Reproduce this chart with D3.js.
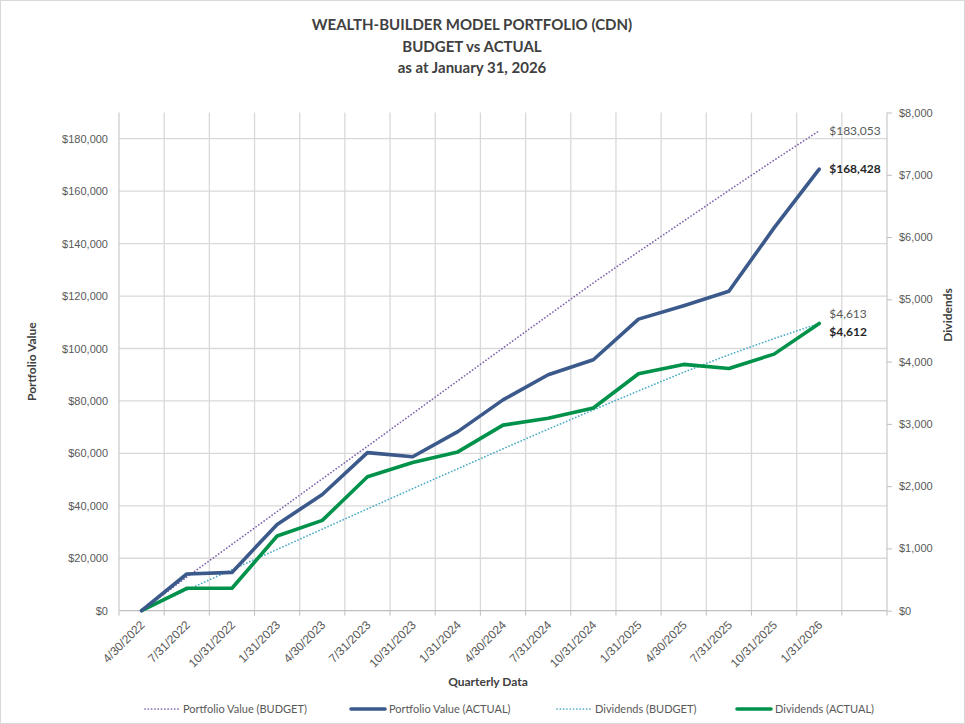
<!DOCTYPE html>
<html>
<head>
<meta charset="utf-8">
<script src="https://cdn.jsdelivr.net/npm/d3@7"></script>
<style>
  body { margin: 0; background: #fff; }
  svg { font-family: Lato, "Liberation Sans", sans-serif; }
</style>
</head>
<body>
<div id="chart"></div>
<script>
const quarters = ["4/30/2022", "7/31/2022", "10/31/2022", "1/31/2023", "4/30/2023", "7/31/2023",
  "10/31/2023", "1/31/2024", "4/30/2024", "7/31/2024", "10/31/2024", "1/31/2025",
  "4/30/2025", "7/31/2025", "10/31/2025", "1/31/2026", " "];

const portfolioBudget = [0, 12800, 25300, 37800, 50300, 62700, 75200, 87700, 100200, 112600,
  125000, 136900, 148600, 160300, 171800, 183053];
const portfolioActual = [0, 14000, 14600, 32900, 44300, 60300, 58700, 68300, 80400, 90000,
  95700, 111200, 116300, 121800, 146000, 168428];
const dividendsBudget = [0, 330, 660, 985, 1310, 1635, 1960, 2280, 2600, 2915,
  3225, 3530, 3830, 4110, 4370, 4613];
const dividendsActual = [0, 360, 360, 1200, 1450, 2150, 2380, 2550, 2980, 3090,
  3255, 3805, 3955, 3890, 4120, 4612];

const leftTicks = [0, 20000, 40000, 60000, 80000, 100000, 120000, 140000, 160000, 180000];
const rightTicks = [0, 1000, 2000, 3000, 4000, 5000, 6000, 7000, 8000];
const titleLines = ["WEALTH-BUILDER MODEL PORTFOLIO (CDN)", "BUDGET vs ACTUAL", "as at January 31, 2026"];

const W = 965, H = 724;
const plot = { left: 119, right: 887, top: 112.5, bottom: 610.7 };
const textGray = "#595959";
const gridGray = "#d9d9d9";

const svg = d3.select("#chart").append("svg")
  .attr("width", W)
  .attr("height", H);

svg.append("rect")
  .attr("x", 0.5).attr("y", 0.5)
  .attr("width", W - 1).attr("height", H - 1)
  .attr("fill", "#fff")
  .attr("stroke", gridGray);

const x = d3.scaleBand()
  .domain(quarters)
  .range([plot.left, plot.right]);
const cx = i => x(quarters[i]) + x.bandwidth() / 2;

const yLeft = d3.scaleLinear().domain([0, 190000]).range([plot.bottom, plot.top]);
const yRight = d3.scaleLinear().domain([0, 8000]).range([plot.bottom, plot.top]);
const money = v => "$" + d3.format(",")(v);

// horizontal gridlines (left axis)
svg.append("g")
  .selectAll("line")
  .data(leftTicks.slice(1))
  .enter().append("line")
  .attr("x1", plot.left).attr("x2", plot.right)
  .attr("y1", d => yLeft(d)).attr("y2", d => yLeft(d))
  .attr("stroke", gridGray).attr("stroke-width", 1.3);

// vertical gridlines on category boundaries
const bounds = quarters.map(q => x(q)).concat([plot.right]);
svg.append("g")
  .selectAll("line")
  .data(bounds.slice(1, -1))
  .enter().append("line")
  .attr("x1", d => d).attr("x2", d => d)
  .attr("y1", plot.top).attr("y2", plot.bottom)
  .attr("stroke", gridGray).attr("stroke-width", 1.3);

// left axis
const gLeft = svg.append("g")
  .attr("transform", "translate(" + plot.left + ",0)")
  .call(d3.axisLeft(yLeft).tickValues(leftTicks).tickFormat(money).tickSize(0).tickPadding(11));
gLeft.select(".domain").attr("stroke", "#bfbfbf").attr("d", "M0," + plot.top + "V" + plot.bottom);
gLeft.selectAll("text").attr("fill", textGray).style("font-size", "11px");

// right axis
const gRight = svg.append("g")
  .attr("transform", "translate(" + plot.right + ",0)")
  .call(d3.axisRight(yRight).tickValues(rightTicks).tickFormat(money).tickSize(5).tickPadding(7));
gRight.select(".domain").attr("stroke", "#bfbfbf").attr("d", "M0," + plot.top + "V" + plot.bottom);
gRight.selectAll("line").attr("stroke", "#bfbfbf");
gRight.selectAll("text").attr("fill", textGray).style("font-size", "11px");

// bottom axis (labels at category centres, ticks on boundaries)
const gBottom = svg.append("g")
  .attr("transform", "translate(0," + plot.bottom + ")")
  .call(d3.axisBottom(x).tickSize(0).tickPadding(0));
gBottom.select(".domain").attr("stroke", "#bfbfbf").attr("stroke-width", 1.3)
  .attr("d", "M" + plot.left + ",0H" + plot.right);
gBottom.selectAll(".tick text")
  .attr("fill", textGray)
  .style("font-size", "12px")
  .attr("text-anchor", "end")
  .attr("y", 0)
  .attr("dy", "0.35em")
  .attr("transform", "translate(1,12) rotate(-45)");
gBottom.append("g")
  .selectAll("line")
  .data(bounds)
  .enter().append("line")
  .attr("x1", d => d).attr("x2", d => d)
  .attr("y1", 0).attr("y2", 5)
  .attr("stroke", "#bfbfbf");

// series
const series = [
  { name: "Portfolio Value (BUDGET)", values: portfolioBudget, y: yLeft, color: "#7f62ae", width: 1.7, dash: "0.1,3.2", dotted: true },
  { name: "Portfolio Value (ACTUAL)", values: portfolioActual, y: yLeft, color: "#3b5a8b", width: 3.6, dash: null, dotted: false },
  { name: "Dividends (BUDGET)", values: dividendsBudget, y: yRight, color: "#4bacc6", width: 1.7, dash: "0.1,3.2", dotted: true },
  { name: "Dividends (ACTUAL)", values: dividendsActual, y: yRight, color: "#00924a", width: 3.6, dash: null, dotted: false }
];

const drawOrder = [0, 2, 3, 1];
drawOrder.forEach(k => {
  const s = series[k];
  const line = d3.line()
    .x((d, i) => cx(i))
    .y(d => s.y(d));
  svg.append("path")
    .datum(s.values)
    .attr("fill", "none")
    .attr("stroke", s.color)
    .attr("stroke-width", s.width)
    .attr("stroke-linejoin", "round")
    .attr("stroke-linecap", "round")
    .attr("stroke-dasharray", s.dash)
    .attr("d", line);
});

// end-of-line value labels
const labelShift = [0, 0, -10, 8];
series.forEach((s, k) => {
  const last = s.values.length - 1;
  svg.append("text")
    .attr("x", cx(last) + 10)
    .attr("y", s.y(s.values[last]) + labelShift[k])
    .attr("dy", "0.35em")
    .attr("fill", s.dotted ? textGray : "#262626")
    .style("font-size", "12px")
    .style("font-weight", s.dotted ? "normal" : "bold")
    .text(money(s.values[last]));
});

// titles
svg.append("g")
  .selectAll("text")
  .data(titleLines)
  .enter().append("text")
  .attr("x", 472)
  .attr("y", (d, i) => 25 + i * 21.5)
  .attr("dy", "0.35em")
  .attr("text-anchor", "middle")
  .attr("fill", "#404040")
  .style("font-size", "15px")
  .style("font-weight", "bold")
  .text(d => d);

svg.append("text")
  .attr("transform", "translate(32," + ((plot.top + plot.bottom) / 2) + ") rotate(-90)")
  .attr("text-anchor", "middle")
  .attr("dy", "0.35em")
  .attr("fill", "#404040")
  .style("font-size", "12px")
  .style("font-weight", "bold")
  .text("Portfolio Value");

svg.append("text")
  .attr("transform", "translate(948,315) rotate(-90)")
  .attr("text-anchor", "middle")
  .attr("dy", "0.35em")
  .attr("fill", "#404040")
  .style("font-size", "12px")
  .style("font-weight", "bold")
  .text("Dividends");

svg.append("text")
  .attr("x", 488)
  .attr("y", 682)
  .attr("dy", "0.35em")
  .attr("text-anchor", "middle")
  .attr("fill", "#404040")
  .style("font-size", "12px")
  .style("font-weight", "bold")
  .text("Quarterly Data");

// legend
const legendX = [145, 351, 557, 737];
const legend = svg.append("g")
  .selectAll("g")
  .data(series)
  .enter().append("g")
  .attr("transform", (d, i) => "translate(" + legendX[i] + ",709)");
legend.append("line")
  .attr("x1", 0).attr("x2", 34)
  .attr("stroke", d => d.color)
  .attr("stroke-width", d => d.width)
  .attr("stroke-linecap", "round")
  .attr("stroke-dasharray", d => d.dash);
legend.append("text")
  .attr("x", 38)
  .attr("dy", "0.35em")
  .attr("fill", textGray)
  .style("font-size", "11px")
  .text(d => d.name);
</script>
</body>
</html>
